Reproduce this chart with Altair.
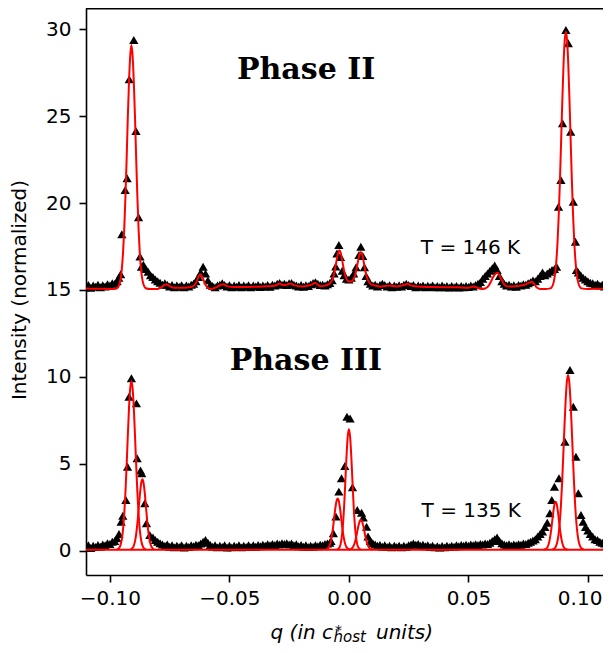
import altair as alt
import pandas as pd

# ---------------- data (q in 1e-3 c*_host units, normalized intensity) ----------------
p2_q = [
    -110, -109, -108, -107, -106, -105, -104, -103, -102, -101,
    -100, -99, -98, -97, -96.3, -95.5, -95.0, -93.6, -92.8, -91.9,
    -90.0, -89.1, -88.0, -87.4, -86.8, -86, -85, -84, -83, -82,
    -81, -80, -79, -78, -77, -76, -75, -74, -73, -72,
    -71, -70, -69, -68, -67, -66, -65, -64, -63, -62,
    -61, -60, -59, -58, -57, -56, -55, -54, -53, -52,
    -51, -50, -49, -48, -47, -46, -45, -44, -43, -42,
    -41, -40, -39, -38, -37, -36, -35, -34, -33, -32,
    -31, -30, -29, -28, -27, -26, -25, -24, -23, -22,
    -21, -20, -19, -18, -17, -16, -15, -14, -13, -12,
    -11, -10, -9, -8, -7, -6.2, -5.5, -5.0, -4.2, -3.5,
    -2.8, -2.0, -1.0, 0.0, 1.0, 2.0, 3.0, 4.2, 5.0, 5.8,
    6.5, 7.2, 8, 9, 10, 11, 12, 13, 14, 15,
    16, 17, 18, 19, 20, 21, 22, 23, 24, 25,
    26, 27, 28, 29, 30, 31, 32, 33, 34, 35,
    36, 37, 38, 39, 40, 41, 42, 43, 44, 45,
    46, 47, 48, 49, 50, 51, 52, 53, 54, 55,
    56, 57, 58, 59, 60, 61, 62, 63, 64, 65,
    66, 67, 68, 69, 70, 71, 72, 73, 74, 75,
    76, 77, 78, 79, 80, 81, 82, 83, 84, 85,
    86, 86.9, 87.7, 88.7, 89.4, 90.8, 91.8, 92.8, 93.9, 94.8,
    95.2, 96, 97, 98, 99, 100, 101, 102, 103, 104,
    105, 106, 107, 108, 109, 110,
]
p2_i = [
    15.15, 15.28, 15.12, 15.25, 15.18, 15.30, 15.15, 15.27, 15.20, 15.33,
    15.25, 15.38, 15.35, 15.50, 15.70, 15.90, 18.20, 20.75, 21.43, 27.13,
    29.39, 24.15, 19.18, 16.92, 16.34, 16.45, 16.20, 16.05, 15.85, 15.75,
    15.60, 15.50, 15.42, 15.30, 15.38, 15.30, 15.20, 15.28, 15.15, 15.25,
    15.18, 15.27, 15.15, 15.25, 15.20, 15.30, 15.35, 15.50, 15.75, 16.00,
    16.34, 15.95, 15.55, 15.30, 15.22, 15.15, 15.25, 15.30, 15.38, 15.28,
    15.20, 15.27, 15.15, 15.25, 15.18, 15.28, 15.15, 15.25, 15.18, 15.27,
    15.15, 15.25, 15.20, 15.28, 15.17, 15.26, 15.20, 15.28, 15.18, 15.30,
    15.25, 15.35, 15.40, 15.30, 15.35, 15.28, 15.38, 15.40, 15.30, 15.25,
    15.20, 15.28, 15.18, 15.27, 15.22, 15.32, 15.40, 15.45, 15.35, 15.28,
    15.30, 15.25, 15.33, 15.40, 15.55, 15.95, 16.35, 17.10, 17.59, 16.90,
    16.10, 15.85, 15.65, 15.60, 15.70, 15.95, 16.30, 17.01, 17.49, 16.95,
    16.30, 15.80, 15.50, 15.35, 15.25, 15.30, 15.20, 15.28, 15.35, 15.28,
    15.20, 15.27, 15.15, 15.25, 15.18, 15.27, 15.20, 15.30, 15.35, 15.28,
    15.22, 15.28, 15.15, 15.25, 15.18, 15.26, 15.15, 15.24, 15.17, 15.25,
    15.15, 15.23, 15.16, 15.25, 15.15, 15.22, 15.14, 15.23, 15.15, 15.22,
    15.14, 15.22, 15.15, 15.23, 15.17, 15.25, 15.20, 15.28, 15.35, 15.45,
    15.65, 15.80, 15.95, 16.10, 16.25, 16.40, 16.15, 15.80, 15.50, 15.35,
    15.25, 15.30, 15.20, 15.27, 15.18, 15.28, 15.25, 15.33, 15.30, 15.38,
    15.45, 15.55, 15.50, 15.65, 15.80, 16.00, 15.85, 15.95, 16.05, 16.15,
    16.20, 16.34, 19.79, 21.33, 24.60, 29.97, 29.20, 24.10, 20.08, 17.78,
    16.15, 16.00, 15.85, 15.70, 15.60, 15.50, 15.42, 15.38, 15.30, 15.35,
    15.25, 15.30, 15.20, 15.28, 15.20, 15.25,
]

p3_q = [
    -110, -109, -108, -107, -106, -105, -104, -103, -102, -101,
    -100, -99, -98, -97, -96.2, -95.3, -94.6, -93.3, -92.6, -92.0,
    -91.0, -88.9, -88.6, -87.2, -86.7, -85.4, -84.7, -83.3, -82, -81,
    -80, -79, -78, -77, -76, -75, -74, -73, -72, -71,
    -70, -69, -68, -67, -66, -65, -64, -63, -62, -61,
    -60, -59, -58, -57, -56, -55, -54, -53, -52, -51,
    -50, -49, -48, -47, -46, -45, -44, -43, -42, -41,
    -40, -39, -38, -37, -36, -35, -34, -33, -32, -31,
    -30, -29, -28, -27, -26, -25, -24, -23, -22, -21,
    -20, -19, -18, -17, -16, -15, -14, -13, -12, -11,
    -10, -9, -8, -7.5, -6.5, -5.4, -4.2, -3.1, -1.7, -0.8,
    0.5, 1.5, 3.5, 5.3, 6.0, 7.4, 8.0, 9, 10, 11,
    12, 13, 14, 15, 16, 17, 18, 19, 20, 21,
    22, 23, 24, 25, 26, 27, 28, 29, 30, 31,
    32, 33, 34, 35, 36, 37, 38, 39, 40, 41,
    42, 43, 44, 45, 46, 47, 48, 49, 50, 51,
    52, 53, 54, 55, 56, 57, 58, 59, 60, 61,
    62, 63, 64, 65, 66, 67, 68, 69, 70, 71,
    72, 73, 74, 75, 76, 77, 78, 79, 80, 81,
    82, 83, 84.1, 84.9, 86.0, 87.9, 90.4, 92.5, 93.9, 95.0,
    96.0, 97.1, 98, 99, 100, 101, 102, 103, 104, 105,
    106, 107, 108, 109, 110,
]
p3_i = [
    0.18, 0.30, 0.15, 0.28, 0.20, 0.32, 0.22, 0.35, 0.30, 0.42,
    0.38, 0.50, 0.55, 0.70, 0.95, 1.66, 2.00, 2.91, 4.82, 8.85,
    9.91, 8.47, 5.31, 4.60, 4.44, 2.72, 1.57, 0.89, 0.75, 0.60,
    0.50, 0.42, 0.35, 0.28, 0.35, 0.22, 0.30, 0.18, 0.28, 0.20,
    0.30, 0.17, 0.27, 0.20, 0.30, 0.25, 0.33, 0.30, 0.40, 0.50,
    0.60, 0.45, 0.32, 0.22, 0.30, 0.18, 0.28, 0.20, 0.30, 0.17,
    0.27, 0.18, 0.28, 0.20, 0.30, 0.18, 0.28, 0.20, 0.30, 0.20,
    0.30, 0.22, 0.32, 0.25, 0.33, 0.28, 0.36, 0.30, 0.38, 0.32,
    0.40, 0.35, 0.42, 0.38, 0.42, 0.35, 0.40, 0.30, 0.36, 0.25,
    0.32, 0.22, 0.30, 0.20, 0.28, 0.22, 0.30, 0.25, 0.33, 0.30,
    0.38, 0.40, 0.45, 0.55, 0.99, 1.95, 3.39, 4.16, 4.86, 7.70,
    7.60, 3.64, 2.33, 2.18, 1.90, 1.37, 0.80, 0.55, 0.42, 0.35,
    0.28, 0.32, 0.22, 0.30, 0.20, 0.28, 0.18, 0.27, 0.20, 0.28,
    0.18, 0.27, 0.20, 0.30, 0.35, 0.40, 0.33, 0.38, 0.28, 0.33,
    0.25, 0.30, 0.20, 0.28, 0.18, 0.25, 0.17, 0.26, 0.18, 0.27,
    0.20, 0.28, 0.22, 0.30, 0.25, 0.32, 0.27, 0.33, 0.28, 0.35,
    0.30, 0.36, 0.32, 0.38, 0.34, 0.40, 0.38, 0.45, 0.55, 0.65,
    0.75, 0.55, 0.42, 0.35, 0.30, 0.36, 0.28, 0.35, 0.30, 0.36,
    0.33, 0.40, 0.38, 0.45, 0.50, 0.58, 0.65, 0.80, 0.95, 1.10,
    1.35, 1.60, 2.14, 2.91, 3.67, 4.16, 6.26, 10.39, 8.28, 5.40,
    3.29, 2.04, 1.65, 1.35, 1.15, 0.95, 0.80, 0.65, 0.60, 0.50,
    0.45, 0.40, 0.35, 0.30, 0.30,
]

# fitted curve, phase II (sum of components + background)
fit2_q = [
    -110, -105, -100, -97.5,
    -97.0, -96.5, -96.0, -95.5, -95.0, -94.5, -94.0, -93.5, -93.0, -92.5, -92.0, -91.5, -91.0,
    -90.5, -90.0, -89.5, -89.0, -88.5, -88.0, -87.5, -87.0, -86.5, -86.0, -85.5, -85.0,
    -83, -80, -78.5, -77, -76.3, -75, -73, -70, -67, -65,
    -63.8, -62.8, -62, -61.2, -60.2, -59, -57.5, -55.5, -53.5, -52.5,
    -51, -48, -44, -40, -36, -32, -30, -29, -27.5, -26,
    -24.5, -23, -20, -17, -15, -14.2, -13, -12, -10, -9, -8,
    -7, -6.5, -6, -5.5, -5, -4.5, -4, -3.5, -3, -2.5, -2, -1.5, -1, -0.5, 0,
    0.5, 1, 1.5, 2, 2.5, 3, 3.5, 4, 4.5, 5, 5.5, 6, 6.5, 7, 7.5, 8,
    9, 10, 11, 13, 15, 17, 20, 23, 24.5, 26,
    30, 35, 40, 45, 50, 52, 55.5, 57, 58.5, 59.5,
    60.5, 61.5, 62.2, 63, 64, 65, 66, 68, 70, 72,
    74, 75.5, 76.4, 77.5, 78.5, 80, 82,
    84.3, 84.8, 85.3, 85.8, 86.3, 86.8, 87.3, 87.8, 88.3, 88.8, 89.3, 89.8, 90.3, 90.8,
    91.3, 91.8, 92.3, 92.8, 93.3, 93.8, 94.3, 94.8, 95.3, 95.8, 96.3, 96.8, 97.3,
    100, 105, 110,
]
fit2_i = [
    15.08, 15.07, 15.06, 15.07,
    15.10, 15.18, 15.34, 15.66, 16.23, 17.15, 18.51, 20.35, 22.54, 24.96, 27.00, 28.47, 29.10,
    28.47, 27.00, 24.96, 22.54, 20.35, 18.51, 17.15, 16.23, 15.66, 15.34, 15.18, 15.10,
    15.05, 15.06, 15.15, 15.30, 15.33, 15.22, 15.12, 15.12, 15.15, 15.22,
    15.45, 15.80, 15.90, 15.70, 15.35, 15.12, 15.06, 15.15, 15.30, 15.33,
    15.22, 15.17, 15.17, 15.18, 15.20, 15.22, 15.30, 15.37, 15.28, 15.30,
    15.37, 15.28, 15.20, 15.25, 15.35, 15.42, 15.30, 15.21, 15.25, 15.30, 15.37,
    15.56, 15.75, 16.04, 16.42, 16.82, 17.13, 17.29, 17.17, 16.86, 16.47, 16.10, 15.82, 15.64, 15.53, 15.49,
    15.48, 15.49, 15.53, 15.63, 15.80, 16.07, 16.42, 16.79, 17.08, 17.19, 17.07, 16.76, 16.38, 16.02, 15.74, 15.55,
    15.36, 15.29, 15.25, 15.20, 15.22, 15.25, 15.20, 15.28, 15.35, 15.25,
    15.18, 15.17, 15.16, 15.15, 15.13, 15.20, 15.05, 15.08, 15.25, 15.50,
    15.78, 15.95, 15.99, 15.85, 15.55, 15.32, 15.22, 15.20, 15.22, 15.25,
    15.32, 15.42, 15.47, 15.35, 15.15, 15.06, 15.05,
    15.09, 15.15, 15.27, 15.52, 15.95, 16.67, 17.76, 19.30, 21.29, 23.57, 25.90, 27.96, 29.37, 29.87,
    29.37, 27.96, 25.90, 23.57, 21.29, 19.30, 17.76, 16.67, 15.95, 15.52, 15.27, 15.15, 15.09,
    15.06, 15.07, 15.08,
]

# fitted components, phase III
base3_q = [-110, 110]
base3_i = [0.05, 0.05]
c1_q = [-97.0, -96.5, -96.0, -95.5, -95.0, -94.5, -94.0, -93.5, -93.0, -92.5, -92.0, -91.5, -91.0,
        -90.5, -90.0, -89.5, -89.0, -88.5, -88.0, -87.5, -87.0, -86.5, -86.0, -85.5, -85.0]
c1_i = [0.05, 0.10, 0.18, 0.34, 0.66, 1.21, 2.11, 3.34, 4.91, 6.62, 8.21, 9.34, 9.75,
        9.34, 8.21, 6.62, 4.91, 3.34, 2.11, 1.21, 0.66, 0.34, 0.18, 0.10, 0.05]
c2_q = [-91.4, -90.9, -90.4, -89.9, -89.4, -88.9, -88.4, -87.9, -87.4, -86.9, -86.4,
        -85.9, -85.4, -84.9, -84.4, -83.9, -83.4, -82.9, -82.4, -81.9, -81.4]
c2_i = [0.05, 0.09, 0.17, 0.32, 0.60, 1.06, 1.71, 2.51, 3.29, 3.88, 4.10,
        3.88, 3.29, 2.51, 1.71, 1.06, 0.60, 0.32, 0.17, 0.09, 0.05]
c3_q = [-9.7, -9.2, -8.7, -8.2, -7.7, -7.2, -6.7, -6.2, -5.7, -5.2, -4.7,
        -4.2, -3.7, -3.2, -2.7, -2.2, -1.7, -1.2, -0.7, -0.2, 0.3]
c3_i = [0.05, 0.08, 0.13, 0.25, 0.45, 0.78, 1.26, 1.84, 2.41, 2.84, 3.00,
        2.84, 2.41, 1.84, 1.26, 0.78, 0.45, 0.25, 0.13, 0.08, 0.05]
c4_q = [-5.0, -4.5, -4.0, -3.5, -3.0, -2.5, -2.0, -1.5, -1.0, -0.5, 0.0,
        0.5, 1.0, 1.5, 2.0, 2.5, 3.0, 3.5, 4.0, 4.5, 5.0]
c4_i = [0.05, 0.09, 0.17, 0.35, 0.75, 1.46, 2.54, 3.95, 5.42, 6.55, 6.98,
        6.55, 5.42, 3.95, 2.54, 1.46, 0.75, 0.35, 0.17, 0.09, 0.05]
c5_q = [0.0, 0.5, 1.0, 1.5, 2.0, 2.5, 3.0, 3.5, 4.0, 4.5, 5.0,
        5.5, 6.0, 6.5, 7.0, 7.5, 8.0, 8.5, 9.0, 9.5, 10.0]
c5_i = [0.05, 0.07, 0.10, 0.16, 0.28, 0.48, 0.75, 1.09, 1.42, 1.67, 1.76,
        1.67, 1.42, 1.09, 0.75, 0.48, 0.28, 0.16, 0.10, 0.07, 0.05]
c6_q = [81.5, 82.0, 82.5, 83.0, 83.5, 84.0, 84.5, 85.0, 85.5, 86.0, 86.5,
        87.0, 87.5, 88.0, 88.5, 89.0, 89.5, 90.0, 90.5, 91.0, 91.5]
c6_i = [0.05, 0.07, 0.10, 0.17, 0.33, 0.61, 1.04, 1.60, 2.19, 2.64, 2.81,
        2.64, 2.19, 1.60, 1.04, 0.61, 0.33, 0.17, 0.10, 0.07, 0.05]
c7_q = [85.2, 85.7, 86.2, 86.7, 87.2, 87.7, 88.2, 88.7, 89.2, 89.7, 90.2, 90.7, 91.2, 91.7,
        92.2, 92.7, 93.2, 93.7, 94.2, 94.7, 95.2, 95.7, 96.2, 96.7, 97.2, 97.7, 98.2]
c7_i = [0.05, 0.09, 0.14, 0.26, 0.49, 0.90, 1.57, 2.55, 3.88, 5.47, 7.16, 8.66, 9.72, 10.10,
        9.72, 8.66, 7.16, 5.47, 3.88, 2.55, 1.57, 0.90, 0.49, 0.26, 0.14, 0.09, 0.05]

x_ticks = [-0.10, -0.05, 0.00, 0.05, 0.10]
y_ticks = [0, 5, 10, 15, 20, 25, 30]

phase_labels = ["Phase II", "Phase III"]
phase_q = [-0.0179, -0.0180]
phase_i = [27.13, 10.37]
temp_labels = ["T = 146 K", "T = 135 K"]
temp_q = [0.0301, 0.0304]
temp_i = [17.05, 1.95]

# ---------------- build tables ----------------
pts = pd.concat([
    pd.DataFrame({"q": p2_q, "i": p2_i}),
    pd.DataFrame({"q": p3_q, "i": p3_i}),
])
pts["q"] = pts["q"] / 1000.0

fit_parts = []
for name, qs, vals in [("f2", fit2_q, fit2_i), ("b3", base3_q, base3_i),
                       ("c1", c1_q, c1_i), ("c2", c2_q, c2_i), ("c3", c3_q, c3_i),
                       ("c4", c4_q, c4_i), ("c5", c5_q, c5_i), ("c6", c6_q, c6_i),
                       ("c7", c7_q, c7_i)]:
    d = pd.DataFrame({"q": qs, "i": vals})
    d["s"] = name
    fit_parts.append(d)
fits = pd.concat(fit_parts)
fits["q"] = fits["q"] / 1000.0

phases = pd.DataFrame({"q": phase_q, "i": phase_i, "t": phase_labels})
temps = pd.DataFrame({"q": temp_q, "i": temp_i, "t": temp_labels})

# ---------------- chart ----------------
PW, PH = 517, 567
xs = alt.Scale(domain=[-0.11, 0.10632], nice=False, zero=False)
ys = alt.Scale(domain=[-1.41, 31.23], nice=False, zero=False)

x_axis = alt.Axis(values=x_ticks, format=".2f", title=None, grid=False,
                  tickSize=7, tickWidth=1.6, tickColor="black",
                  domainColor="black", domainWidth=1.6,
                  labelFont="DejaVu Sans", labelFontSize=20, labelColor="black",
                  labelPadding=6, labelFlush=20, labelFlushOffset=14,
                  labelOverlap=False, labelBound=False)
y_axis = alt.Axis(values=y_ticks, format="d", title=None, grid=False,
                  tickSize=7, tickWidth=1.6, tickColor="black",
                  domainColor="black", domainWidth=1.6,
                  labelFont="DejaVu Sans", labelFontSize=20, labelColor="black",
                  labelPadding=8, labelOverlap=False, labelBound=False)

X = alt.X("q:Q", scale=xs, axis=x_axis)
Y = alt.Y("i:Q", scale=ys, axis=y_axis)

points = alt.Chart(pts).mark_point(
    shape="triangle-up", filled=True, size=85, color="black", opacity=1, clip=True
).encode(x=X, y=Y)

lines = alt.Chart(fits).mark_line(
    color="#ff0000", strokeWidth=2, interpolate="monotone", clip=True
).encode(x=alt.X("q:Q", scale=xs), y=alt.Y("i:Q", scale=ys), detail="s:N")

phase_text = alt.Chart(phases).mark_text(
    font="DejaVu Serif", fontWeight="bold", fontSize=30, align="center",
    baseline="alphabetic", color="black"
).encode(x=alt.X("q:Q", scale=xs), y=alt.Y("i:Q", scale=ys), text="t:N")

temp_text = alt.Chart(temps).mark_text(
    font="DejaVu Sans", fontSize=20, align="left", baseline="alphabetic", color="black"
).encode(x=alt.X("q:Q", scale=xs), y=alt.Y("i:Q", scale=ys), text="t:N")

dummy = pd.DataFrame({"a": [0]})
# top frame line (the right spine lies outside the visible area)
top_line = alt.Chart(dummy).mark_rule(color="black", strokeWidth=1.6).encode(
    x=alt.value(0), x2=alt.value(PW), y=alt.value(0.8))

xt1 = alt.Chart(dummy).mark_text(text="q (in c", font="DejaVu Sans", fontStyle="italic",
                                 fontSize=20, align="right", baseline="alphabetic",
                                 color="black").encode(x=alt.value(247), y=alt.value(630.5))
xt2 = alt.Chart(dummy).mark_text(text="*", font="DejaVu Sans", fontSize=14, align="left",
                                 baseline="alphabetic", color="black"
                                 ).encode(x=alt.value(249), y=alt.value(627))
xt3 = alt.Chart(dummy).mark_text(text="host", font="DejaVu Sans", fontStyle="italic",
                                 fontSize=15, align="left", baseline="alphabetic",
                                 color="black").encode(x=alt.value(247.5), y=alt.value(633.5))
xt4 = alt.Chart(dummy).mark_text(text="units)", font="DejaVu Sans", fontStyle="italic",
                                 fontSize=20, align="left", baseline="alphabetic",
                                 color="black").encode(x=alt.value(290), y=alt.value(630.5))
yt = alt.Chart(dummy).mark_text(text="Intensity (normalized)", font="DejaVu Sans",
                                fontSize=20, angle=270, align="center", baseline="middle",
                                color="black").encode(x=alt.value(-66), y=alt.value(282))

chart = alt.layer(points, lines, phase_text, temp_text, top_line,
                  xt1, xt2, xt3, xt4, yt).properties(
    width=PW, height=PH,
    autosize=alt.AutoSizeParams(type="none"),
    padding={"left": 78, "top": 0, "right": 0, "bottom": 69},
).configure_view(strokeWidth=0)

chart.save("out.html", embed_options={"renderer": "svg", "actions": False})
